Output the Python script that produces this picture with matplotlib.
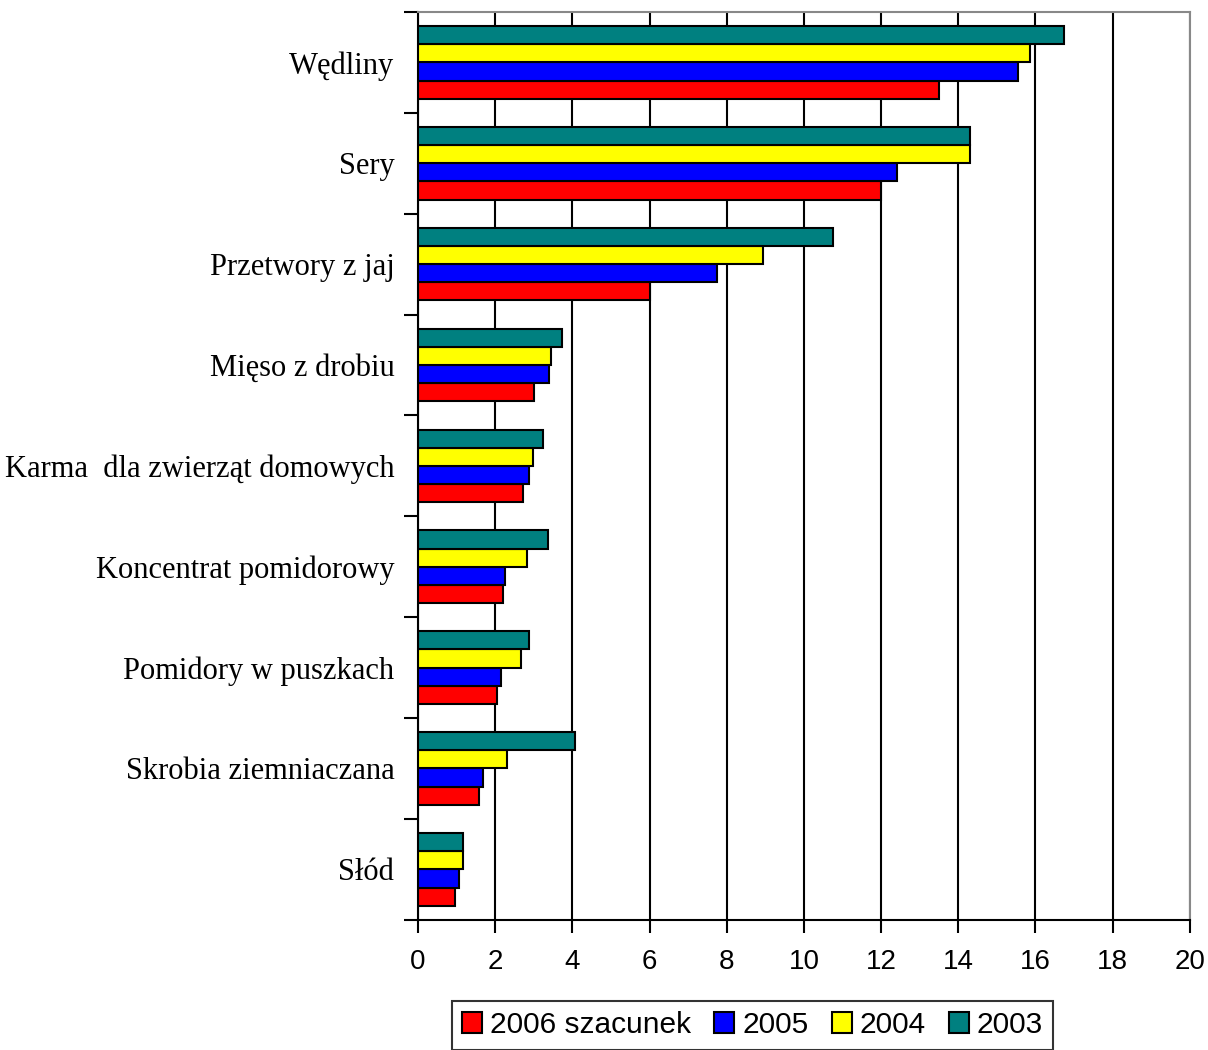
import numpy as np
import matplotlib
matplotlib.use("Agg")
import matplotlib.pyplot as plt

categories = ["Wędliny", "Sery", "Przetwory z jaj", "Mięso z drobiu",
              "Karma  dla zwierząt domowych", "Koncentrat pomidorowy",
              "Pomidory w puszkach", "Skrobia ziemniaczana", "Słód"]
v2006 = [13.5, 12.0, 6.0, 3.0, 2.72, 2.2, 2.05, 1.58, 0.96]
v2005 = [15.55, 12.4, 7.75, 3.4, 2.88, 2.26, 2.16, 1.68, 1.06]
v2004 = [15.87, 14.3, 8.93, 3.45, 2.98, 2.82, 2.68, 2.31, 1.17]
v2003 = [16.73, 14.3, 10.75, 3.72, 3.25, 3.36, 2.88, 4.08, 1.17]
series = [("2006 szacunek", v2006, "#ff0000"),
          ("2005", v2005, "#0000ff"),
          ("2004", v2004, "#ffff00"),
          ("2003", v2003, "#008080")]

fig = plt.figure(figsize=(12.08, 10.5), dpi=100)
ax = fig.add_axes([0.346, 0.124, 0.639, 0.8646])

n = len(categories)
y = np.arange(n)[::-1].astype(float)   # first category at top
bh = 0.18
for i, (lab, vals, col) in enumerate(series):
    off = (i - 1.5) * bh               # red lowest, teal highest
    ax.barh(y + off, vals, height=bh, color=col, edgecolor="black",
            linewidth=1.5, label=lab, zorder=3)

ax.set_xlim(0, 20)
ax.set_ylim(-0.5, n - 0.5)
ax.set_xticks(np.arange(0, 21, 2))
ax.xaxis.grid(True, color="black", lw=1.5, zorder=1)
ax.set_axisbelow(True)

ax.set_yticks(y)
ax.set_yticklabels(categories, fontfamily="Liberation Serif", fontsize=22)
ax.set_yticks(np.arange(-0.5, n, 1), minor=True)
ax.tick_params(axis="y", which="major", length=0, pad=17)
ax.tick_params(axis="y", which="minor", length=10, width=1.5, direction="out")
ax.tick_params(axis="x", length=9, width=1.5, direction="out", pad=12)
for t in ax.get_xticklabels():
    t.set_fontfamily("Liberation Sans")
    t.set_fontsize(20)

for s in ["left", "bottom"]:
    ax.spines[s].set_color("black")
    ax.spines[s].set_linewidth(1.5)
for s in ["top", "right"]:
    ax.spines[s].set_color("#888888")
    ax.spines[s].set_linewidth(1.5)

leg = fig.legend(loc="upper center", bbox_to_anchor=(0.623, 0.047), ncol=4,
                 frameon=True, fancybox=False, edgecolor="black",
                 prop={"family": "Liberation Sans", "size": 21.5},
                 handlelength=0.67, handleheight=0.67, handletextpad=0.27,
                 columnspacing=0.77, borderpad=0.35, borderaxespad=0)
leg.get_frame().set_linewidth(1.5)

fig.savefig("out.png", dpi=100)
